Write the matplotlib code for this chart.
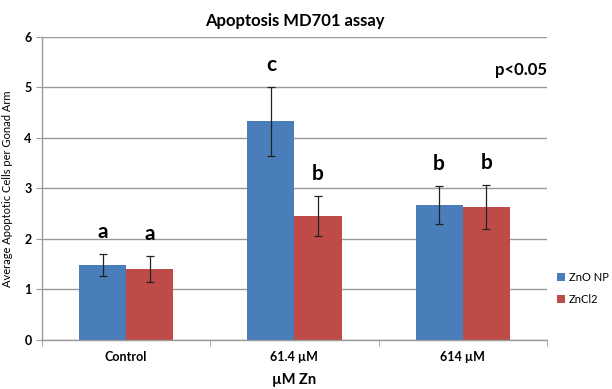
import matplotlib.pyplot as plt
import numpy as np

plt.rcParams['font.family'] = ['Lato', 'DejaVu Sans']

categories = ['Control', '61.4 µM', '614 µM']
zno_np = [1.48, 4.33, 2.67]
zno_err = [0.22, 0.68, 0.37]
zncl2 = [1.40, 2.45, 2.63]
zncl2_err = [0.26, 0.40, 0.44]
zno_letters = ['a', 'c', 'b']
zncl2_letters = ['a', 'b', 'b']

blue = '#4A7EBB'
red = '#BE4B48'
grid_col = '#9a9a9a'

fig = plt.figure(figsize=(6.12, 3.89), dpi=100)
ax = fig.add_axes([0.0686, 0.126, 0.825, 0.779])

x = np.arange(len(categories))
w = 0.28
err_kw = dict(ecolor='#222222', elinewidth=0.9, capsize=3, capthick=0.9)
ax.bar(x - w / 2, zno_np, w, yerr=zno_err, color=blue, label='ZnO NP', error_kw=err_kw, zorder=2)
ax.bar(x + w / 2, zncl2, w, yerr=zncl2_err, color=red, label='ZnCl2', error_kw=err_kw, zorder=2)

for i in range(len(categories)):
    ax.text(x[i] - w / 2, zno_np[i] + zno_err[i] + 0.24, zno_letters[i],
            ha='center', va='bottom', fontsize=15, fontweight='bold')
    ax.text(x[i] + w / 2, zncl2[i] + zncl2_err[i] + 0.24, zncl2_letters[i],
            ha='center', va='bottom', fontsize=15, fontweight='bold')

ax.text(2.5, 5.35, 'p<0.05', ha='right', va='center', fontsize=12, fontweight='bold')

ax.set_xlim(-0.5, 2.5)
ax.set_ylim(0, 6)
ax.set_yticks(range(7))
ax.yaxis.grid(True, color=grid_col, linewidth=1.0, zorder=0)
ax.set_axisbelow(True)

ax.set_xticks(x)
ax.set_xticklabels(categories, fontsize=9, fontweight='bold')
ax.tick_params(axis='x', length=0, pad=8)
ax.set_xticks([-0.5, 0.5, 1.5, 2.5], minor=True)
ax.tick_params(axis='x', which='minor', length=4, color=grid_col)
ax.tick_params(axis='y', length=4, color=grid_col, labelsize=9)
for lab in ax.get_yticklabels():
    lab.set_fontweight('bold')

for s in ['top', 'right']:
    ax.spines[s].set_visible(False)
for s in ['left', 'bottom']:
    ax.spines[s].set_color(grid_col)
    ax.spines[s].set_linewidth(1.0)

ax.set_title('Apoptosis MD701 assay', fontsize=12, fontweight='bold', pad=8)
ax.set_xlabel('µM Zn', fontsize=10.5, fontweight='bold', labelpad=7)
ax.set_ylabel('Average Apoptotic Cells per Gonad Arm', fontsize=8, labelpad=8)

ax.legend(loc='center left', bbox_to_anchor=(1.0, 0.17), frameon=False,
          fontsize=8, handlelength=0.7, handleheight=0.7, handletextpad=0.4,
          labelspacing=1.0)

fig.savefig('out.png', dpi=100)
